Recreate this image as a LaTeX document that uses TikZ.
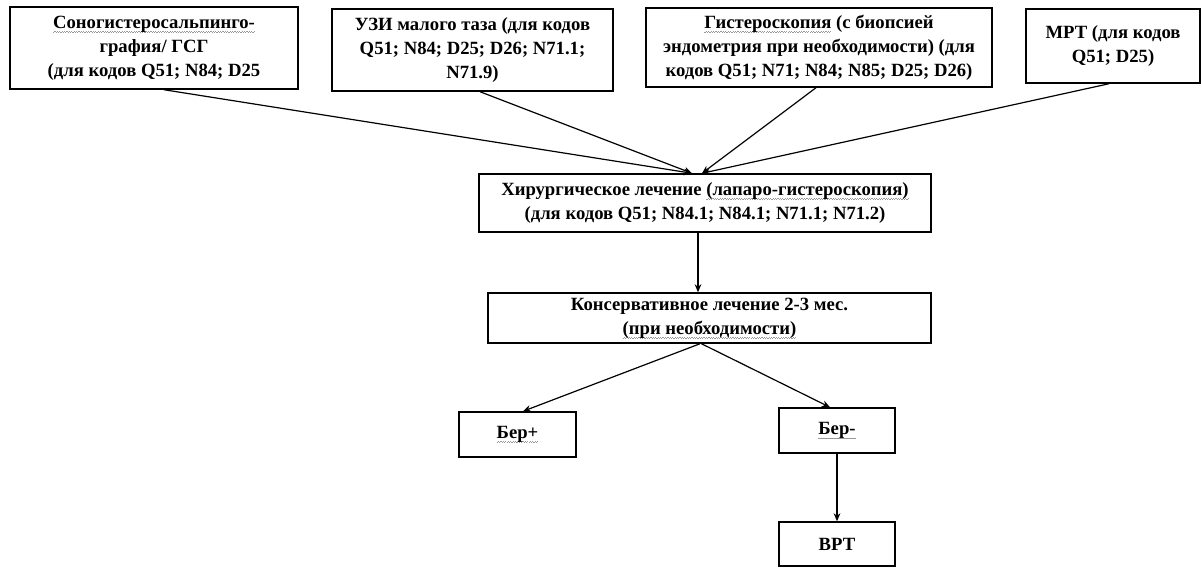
\documentclass[tikz,border=0pt]{standalone}
\usepackage{fontspec}
\setmainfont{Liberation Serif}
\usetikzlibrary{arrows.meta}
\newsavebox\wvbox
\newcommand\wv[1]{\sbox\wvbox{#1}\rlap{\color{black!40}\raisebox{0pt}[0pt][0pt]{\hbox to \wd\wvbox{\xleaders\hbox{\rule[-3.3pt]{0.9pt}{0.55pt}\rule[-2.7pt]{0.9pt}{0.55pt}}\hfill}}}\usebox\wvbox}
\tikzset{
  box/.style={draw=black, line width=1.1pt, inner sep=0pt, align=center,
    font=\fontsize{14}{18}\selectfont\bfseries, text=black},
  arr/.style={draw=black, line width=0.9pt, -{Stealth[length=6pt,width=5pt]}},
}
\newcommand\bxnode[6]{\node[box, minimum width={(#4-#2)*0.75pt},
  minimum height={(#5-#3)*0.75pt}] (#1) at ({(#2+#4)/2},{(#3+#5)/2}) {#6};}
\begin{document}
\begin{tikzpicture}[x=0.75pt,y=-0.75pt]
\useasboundingbox[fill=white] (0,0) rectangle (1202,568);
\bxnode{b1}{10}{7}{298}{89}{\wv{Соногистеросальпинго-}\\графия/ ГСГ\\(для кодов Q51; N84; D25}
\bxnode{b2}{332}{9}{613}{91}{УЗИ малого таза (для кодов\\Q51; N84; D25; D26; N71.1;\\N71.9)}
\bxnode{b3}{646}{8}{992}{87}{\wv{Гистероскопия} (с биопсией\\эндометрия при необходимости) (для\\кодов Q51; N71; N84; N85; D25; D26)}
\bxnode{b4}{1026}{9}{1200}{83}{МРТ (для кодов\\Q51; D25)}
\bxnode{h}{479}{174}{931}{232}{Хирургическое лечение \wv{(лапаро-гистероскопия)}\\(для кодов Q51; N84.1; N84.1; N71.1; N71.2)}
\bxnode{k}{488}{293}{931}{343}{Консервативное лечение 2-3 мес.\\\wv{(при необходимости)}}
\bxnode{bp}{459}{412}{576}{457}{\wv{Бер+}}
\bxnode{bm}{779}{408}{895}{453}{\wv{Бер-}}
\bxnode{v}{779}{522}{895}{566}{ВРТ}
\draw[arr] ([xshift=10*0.75pt]b1.south) -- ([xshift=-13*0.75pt]h.north);
\draw[arr] ([xshift=7.5*0.75pt]b2.south) -- ([xshift=-13*0.75pt]h.north);
\draw[arr] ([xshift=-3*0.75pt]b3.south) -- ([xshift=-3*0.75pt]h.north);
\draw[arr] ([xshift=-4*0.75pt]b4.south) -- ([xshift=-3*0.75pt]h.north);
\draw[arr] ([xshift=-7*0.75pt]h.south) -- ([xshift=-7*0.75pt]h.south |- k.north);
\draw[arr] ([xshift=-9.5*0.75pt]k.south) -- ([xshift=5.5*0.75pt]bp.north);
\draw[arr] ([xshift=-8*0.75pt]k.south) -- ([xshift=-7*0.75pt]bm.north);
\draw[arr] (bm.south) -- (v.north);
\end{tikzpicture}
\end{document}
